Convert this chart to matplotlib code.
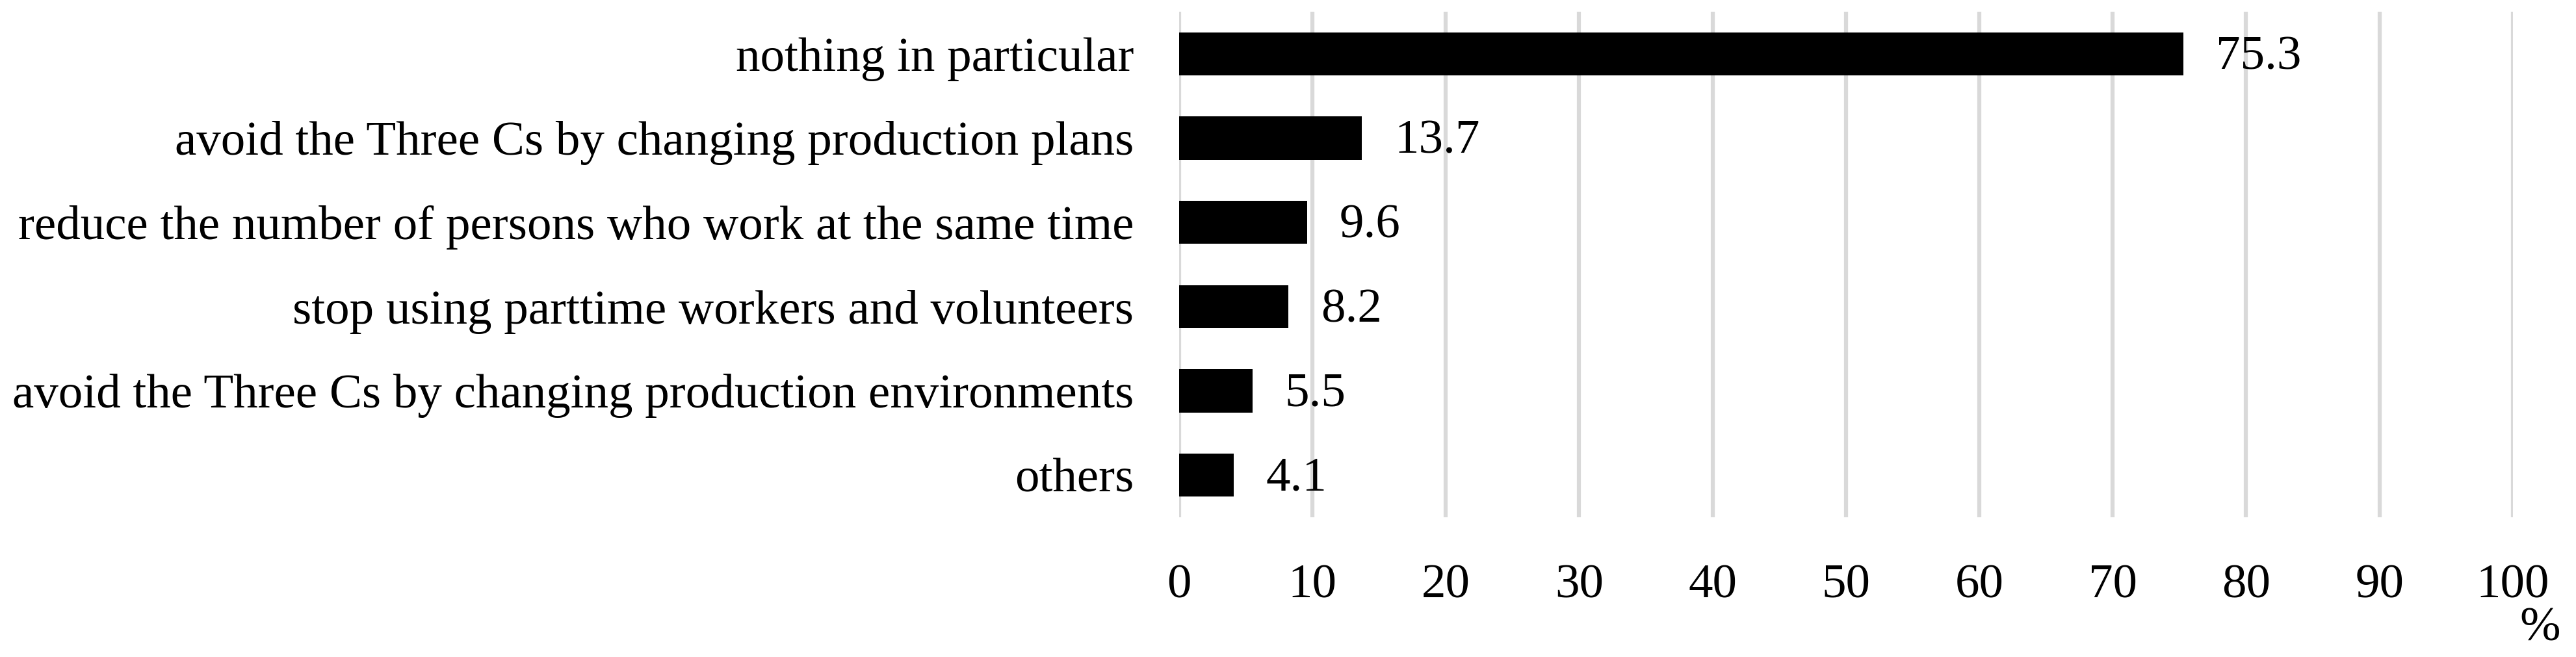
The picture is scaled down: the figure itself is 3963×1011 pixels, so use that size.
import matplotlib
matplotlib.use("Agg")
from matplotlib import pyplot as plt

categories = [
    "nothing in particular",
    "avoid the Three Cs by changing production plans",
    "reduce the number of persons who work at the same time",
    "stop using parttime workers and volunteers",
    "avoid the Three Cs by changing production environments",
    "others",
]
values = [75.3, 13.7, 9.6, 8.2, 5.5, 4.1]
xticks = list(range(0, 101, 10))

plt.rcParams["font.family"] = ["Liberation Serif", "DejaVu Serif"]
FS = 54

fig = plt.figure(figsize=(39.63, 10.11), dpi=100)
ax = fig.add_axes([0.4577, 0.2127, 0.9755 - 0.4577, 0.9822 - 0.2127])

pos = list(range(len(categories)))
ax.barh(pos, values, height=0.51, color="black", zorder=3)
for y, v in zip(pos, values):
    ax.annotate(f"{v:.1f}", (v, y), xytext=(36, -4), textcoords="offset points",
                ha="left", va="center", fontsize=FS)

ax.set_xlim(0, 100)
ax.set_ylim(len(categories) - 0.5, -0.5)
ax.set_xticks(xticks)
ax.set_yticks(pos)
ax.set_yticklabels(categories)
ax.tick_params(axis="x", length=0, pad=52, labelsize=FS)
ax.tick_params(axis="y", length=0, pad=50, labelsize=FS)
ax.grid(axis="x", color="#d9d9d9", linewidth=4.5, zorder=0)
for s in ax.spines.values():
    s.set_visible(False)

fig.text(3908 / 3963, 1 - 968 / 1011, "%", fontsize=FS, ha="center", va="center")

fig.savefig("out.png", dpi=100)
